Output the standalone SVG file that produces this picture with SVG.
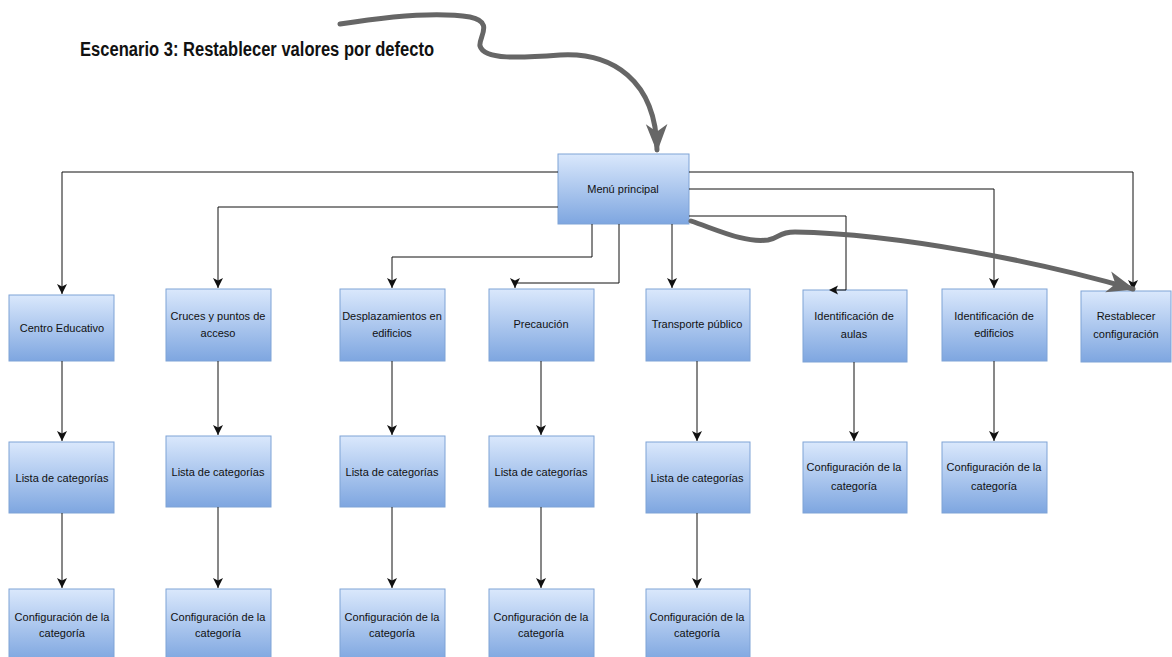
<svg xmlns="http://www.w3.org/2000/svg" width="1172" height="657" viewBox="0 0 1172 657">
<style>
.box{fill:url(#g);stroke:#7fa3d6;stroke-width:1}
.t{font-family:"Liberation Sans",Arial,sans-serif;font-size:11px;fill:#111;text-anchor:middle}
.c{fill:none;stroke:#111;stroke-width:1}
.big{fill:none;stroke:#666;stroke-width:5;stroke-linecap:round}
</style>
<defs>
<linearGradient id="g" x1="0" y1="0" x2="0" y2="1">
<stop offset="0" stop-color="#dae8fc"/>
<stop offset="1" stop-color="#7ea6e0"/>
</linearGradient>
<marker id="a" markerUnits="userSpaceOnUse" markerWidth="10" markerHeight="10" refX="8" refY="4" orient="auto" viewBox="0 0 8 8">
<path d="M0,0 L8,4 L0,8 L2,4 Z" fill="#111"/>
</marker>
<marker id="ba" markerUnits="userSpaceOnUse" markerWidth="28" markerHeight="24" refX="24" refY="10" orient="auto" viewBox="0 0 26 20">
<path d="M0,0 L26,10 L0,20 L7,10 Z" fill="#666"/>
</marker>
</defs>

<text x="80" y="56" font-family="'Liberation Sans',Arial,sans-serif" font-weight="bold" font-size="20" fill="#111" textLength="354" lengthAdjust="spacingAndGlyphs">Escenario 3: Restablecer valores por defecto</text>

<g id="menu"><rect class="box" x="558" y="154" width="131" height="70"/><text class="t" x="623" y="193">Menú principal</text></g>

<g id="centro"><rect class="box" x="9" y="295" width="105" height="66"/><text class="t" x="62" y="332">Centro Educativo</text></g>
<g id="cruces"><rect class="box" x="166" y="289" width="105" height="72"/><text class="t" x="218" y="320">Cruces y puntos de</text><text class="t" x="218" y="337">acceso</text></g>
<g id="desplazamientos"><rect class="box" x="340" y="289" width="105" height="72"/><text class="t" x="392" y="320">Desplazamientos en</text><text class="t" x="392" y="337">edificios</text></g>
<g id="precaucion"><rect class="box" x="489" y="289" width="105" height="72"/><text class="t" x="541" y="328">Precaución</text></g>
<g id="transporte"><rect class="box" x="646" y="289" width="104" height="72"/><text class="t" x="697" y="328">Transporte público</text></g>
<g id="aulas"><rect class="box" x="803" y="290" width="104" height="72"/><text class="t" x="854" y="320">Identificación de</text><text class="t" x="854" y="338">aulas</text></g>
<g id="edificios"><rect class="box" x="942" y="289" width="105" height="72"/><text class="t" x="994" y="320">Identificación de</text><text class="t" x="994" y="337">edificios</text></g>
<g id="restablecer"><rect class="box" x="1081" y="291" width="90" height="71"/><text class="t" x="1126" y="320">Restablecer</text><text class="t" x="1126" y="338">configuración</text></g>

<g id="lista1"><rect class="box" x="9" y="442" width="105" height="71"/><text class="t" x="62" y="482">Lista de categorías</text></g>
<g id="lista2"><rect class="box" x="166" y="436" width="105" height="71"/><text class="t" x="218" y="476">Lista de categorías</text></g>
<g id="lista3"><rect class="box" x="340" y="436" width="105" height="71"/><text class="t" x="392" y="476">Lista de categorías</text></g>
<g id="lista4"><rect class="box" x="489" y="436" width="105" height="71"/><text class="t" x="541" y="476">Lista de categorías</text></g>
<g id="lista5"><rect class="box" x="646" y="442" width="104" height="71"/><text class="t" x="697" y="482">Lista de categorías</text></g>
<g id="config_aulas"><rect class="box" x="803" y="442" width="104" height="71"/><text class="t" x="854" y="471">Configuración de la</text><text class="t" x="854" y="490">categoría</text></g>
<g id="config_edificios"><rect class="box" x="942" y="442" width="105" height="71"/><text class="t" x="994" y="471">Configuración de la</text><text class="t" x="994" y="490">categoría</text></g>

<g id="config1"><rect class="box" x="9" y="589" width="105" height="72"/><text class="t" x="62" y="621">Configuración de la</text><text class="t" x="62" y="637">categoría</text></g>
<g id="config2"><rect class="box" x="166" y="589" width="105" height="72"/><text class="t" x="218" y="621">Configuración de la</text><text class="t" x="218" y="637">categoría</text></g>
<g id="config3"><rect class="box" x="340" y="589" width="105" height="72"/><text class="t" x="392" y="621">Configuración de la</text><text class="t" x="392" y="637">categoría</text></g>
<g id="config4"><rect class="box" x="489" y="589" width="105" height="72"/><text class="t" x="541" y="621">Configuración de la</text><text class="t" x="541" y="637">categoría</text></g>
<g id="config5"><rect class="box" x="646" y="589" width="104" height="72"/><text class="t" x="697" y="621">Configuración de la</text><text class="t" x="697" y="637">categoría</text></g>

<g id="connectors">
<path class="c" d="M558,172 H62 V294" marker-end="url(#a)"/>
<path class="c" d="M558,207 H218 V288" marker-end="url(#a)"/>
<path class="c" d="M592,224 V257 H392 V288" marker-end="url(#a)"/>
<path class="c" d="M619,224 V283 H515 V288" marker-end="url(#a)"/>
<path class="c" d="M672,224 V288" marker-end="url(#a)"/>
<path class="c" d="M689,216 H846 V290 H836"/>
<polygon points="829,290 838,285.5 836,290 838,294.5" fill="#111"/>
<path class="c" d="M689,189 H994 V288" marker-end="url(#a)"/>
<path class="c" d="M689,172 H1133 V290" marker-end="url(#a)"/>
<path class="c" d="M62,361 V441" marker-end="url(#a)"/>
<path class="c" d="M218,361 V435" marker-end="url(#a)"/>
<path class="c" d="M392,361 V435" marker-end="url(#a)"/>
<path class="c" d="M541,361 V435" marker-end="url(#a)"/>
<path class="c" d="M697,361 V441" marker-end="url(#a)"/>
<path class="c" d="M854,362 V441" marker-end="url(#a)"/>
<path class="c" d="M994,361 V441" marker-end="url(#a)"/>
<path class="c" d="M62,513 V588" marker-end="url(#a)"/>
<path class="c" d="M218,507 V588" marker-end="url(#a)"/>
<path class="c" d="M392,507 V588" marker-end="url(#a)"/>
<path class="c" d="M541,507 V588" marker-end="url(#a)"/>
<path class="c" d="M697,513 V588" marker-end="url(#a)"/>
<path class="big" d="M340,24 C390,16 440,12 470,17 C495,22 478,38 480,46 C484,60 520,58 560,55 C612,52 656,80 657,150" marker-end="url(#ba)"/>
<path class="big" d="M691,221 C720,231 745,243 768,240 C780,238 778,232 795,232 C900,234 1040,262 1133,289" marker-end="url(#ba)"/>
</g>
</svg>
